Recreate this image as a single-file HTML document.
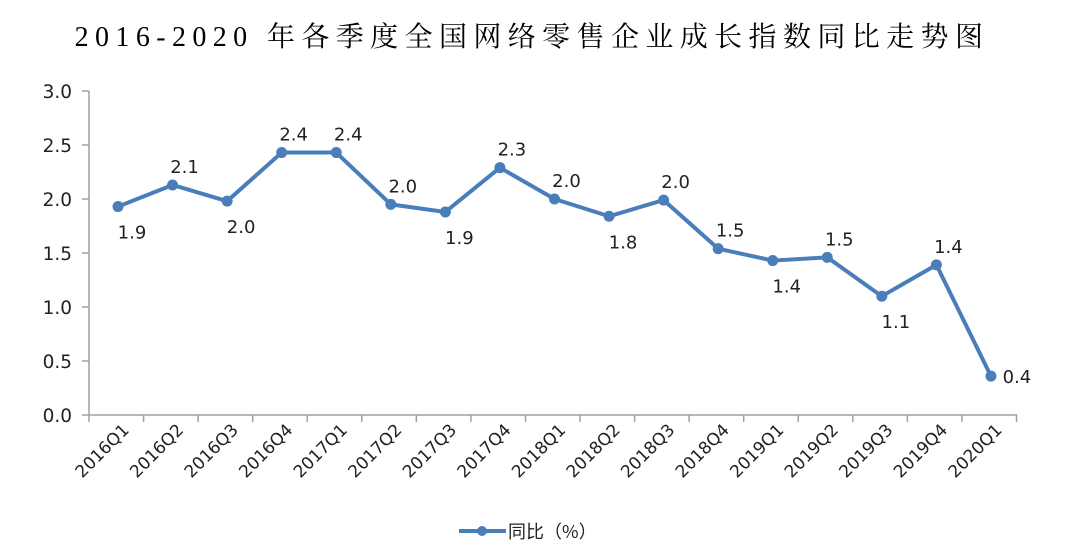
<!DOCTYPE html>
<html><head><meta charset="utf-8"><style>
body{margin:0;background:#fff;width:1080px;height:555px;overflow:hidden}
svg text{font-family:"DejaVu Sans","Liberation Sans","Noto Sans CJK SC",sans-serif;fill:#222}
</style></head><body>
<svg width="1080" height="555" viewBox="0 0 1080 555">
<text x="532" y="46" text-anchor="middle" style="font-family:'Liberation Serif','Noto Serif CJK SC',serif;font-size:28px;letter-spacing:6.4px;fill:#000">2016-2020 年各季度全国网络零售企业成长指数同比走势图</text>
<g stroke="#a0a0a0" stroke-width="1.5" fill="none">
<line x1="89" y1="91" x2="89" y2="415"/>
<line x1="89" y1="415" x2="1017" y2="415"/>
<line x1="82" y1="91" x2="89" y2="91"/><line x1="82" y1="145" x2="89" y2="145"/><line x1="82" y1="199" x2="89" y2="199"/><line x1="82" y1="253" x2="89" y2="253"/><line x1="82" y1="307" x2="89" y2="307"/><line x1="82" y1="361" x2="89" y2="361"/><line x1="82" y1="415" x2="89" y2="415"/>
</g>
<g id="xt" stroke="#a0a0a0" stroke-width="1.5"></g>
<g font-size="18.5" text-anchor="end">
<text x="72" y="98">3.0</text><text x="72" y="152">2.5</text><text x="72" y="206">2.0</text><text x="72" y="260">1.5</text><text x="72" y="314">1.0</text><text x="72" y="368">0.5</text><text x="72" y="422">0.0</text>
</g>
<g id="xl" font-size="17" text-anchor="end"></g>
<polyline id="ln" fill="none" stroke="#4a7ebb" stroke-width="4" stroke-linejoin="round"/>
<g id="mk" fill="#4a7ebb"></g>
<g id="dl" font-size="18" text-anchor="middle"></g>
<line x1="459" y1="531" x2="506" y2="531" stroke="#4a7ebb" stroke-width="4"/>
<circle cx="482" cy="531" r="5" fill="#4a7ebb"/>
<text x="508" y="538" font-size="18" style="font-family:'Noto Sans CJK SC',sans-serif">同比（%）</text>
</svg>
<script>
var v=[1.93,2.13,1.98,2.43,2.43,1.95,1.88,2.29,2.0,1.84,1.99,1.54,1.43,1.46,1.10,1.39,0.36];
var lab=["1.9","2.1","2.0","2.4","2.4","2.0","1.9","2.3","2.0","1.8","2.0","1.5","1.4","1.5","1.1","1.4","0.4"];
var up=[0,1,0,1,1,1,0,1,1,0,1,1,0,1,0,1,2];
var names=[];for(var y=2016;y<=2020;y++)for(var q=1;q<=4;q++)names.push(y+"Q"+q);
var ns="http://www.w3.org/2000/svg",pts=[],step=54.56;
function el(t,a,p,txt){var e=document.createElementNS(ns,t);for(var k in a)e.setAttribute(k,a[k]);if(txt)e.textContent=txt;document.getElementById(p).appendChild(e);}
for(var i=0;i<=17;i++){var x=89+i*step;el("line",{x1:x,y1:415,x2:x,y2:422},"xt");}
for(var i=0;i<17;i++){var x=118+i*step,y=415-v[i]*108;pts.push(x+","+y);
el("circle",{cx:x,cy:y,r:5.5},"mk");
var lx=x+12,ly=y+32;if(up[i]==1){ly=y-12;}if(up[i]==2){lx=x+26;ly=y+7;}
if(up[i]==0)lx=x+14;
el("text",{x:lx,y:ly},"dl",lab[i]);
var tx=x+12,ty=431;el("text",{x:tx,y:ty,transform:"rotate(-45 "+tx+" "+ty+")"},"xl",names[i]);}
document.getElementById("ln").setAttribute("points",pts.join(" "));
</script>
</body></html>
